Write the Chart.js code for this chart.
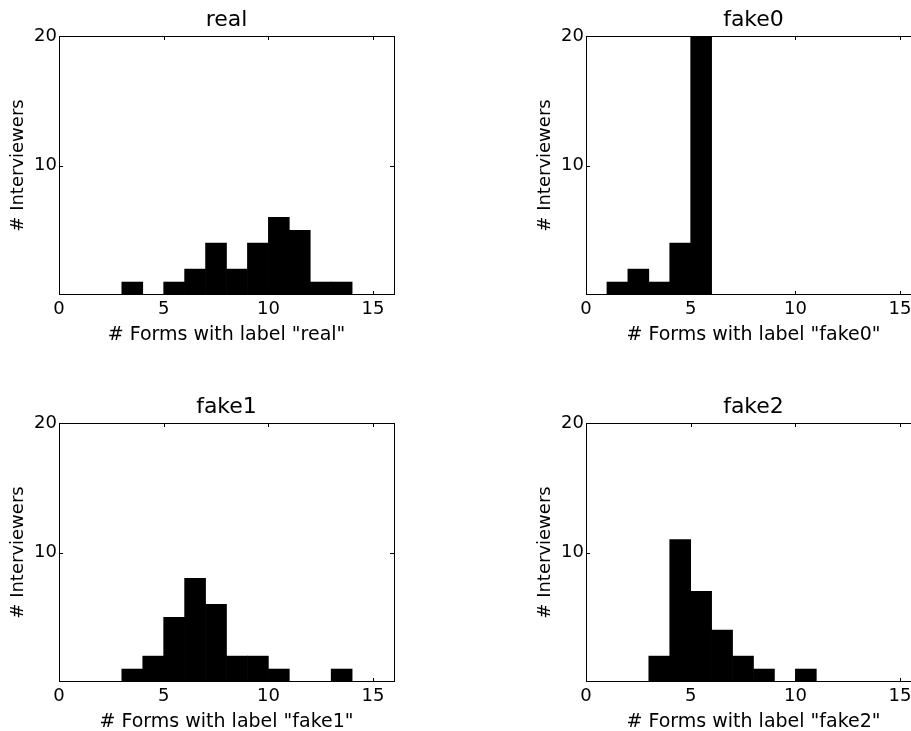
<!DOCTYPE html>
<html>
<head>
<meta charset="utf-8">
<script src="https://cdn.jsdelivr.net/npm/chart.js@4.4.1/dist/chart.umd.min.js"></script>
<style>
  html, body { margin: 0; padding: 0; background: #fff; overflow: hidden; }
  #wrap { position: relative; width: 911px; height: 731px; overflow: hidden; }
  #wrap canvas { position: absolute; }
</style>
</head>
<body>
<div id="wrap">
  <canvas id="chartReal" width="420" height="350" style="left:0px;top:0px"></canvas>
  <canvas id="chartFake0" width="420" height="350" style="left:527px;top:0px"></canvas>
  <canvas id="chartFake1" width="420" height="350" style="left:0px;top:387px"></canvas>
  <canvas id="chartFake2" width="420" height="350" style="left:527px;top:387px"></canvas>
</div>
<script>
// histogram bins: lower edge of each bin, width 1
const binStarts = [1, 2, 3, 4, 5, 6, 7, 8, 9, 10, 11, 12, 13, 14];

// counts per bin
const realCounts  = [0, 0, 1, 0, 1, 2, 4, 2, 4, 6, 5, 1, 1, 0];
const fake0Counts = [1, 2, 1, 4, 20, 0, 0, 0, 0, 0, 0, 0, 0, 0];
const fake1Counts = [0, 0, 1, 2, 5, 8, 6, 2, 2, 1, 0, 0, 1, 0];
const fake2Counts = [0, 0, 2, 11, 7, 4, 2, 1, 0, 1, 0, 0, 0, 0];

// axis ranges and ticks
const xRange = [0, 16];
const yRange = [0, 20];
const xTicks = [0, 5, 10, 15];
const yTicks = [10, 20];

Chart.defaults.font.family = "'DejaVu Sans', sans-serif";
Chart.defaults.color = '#000';

// box around the plot + inward tick marks on all four sides
const frameTicks = {
    id: 'frameTicks',
    afterDatasetsDraw(chart) {
        const { ctx, chartArea: a, scales: { x, y } } = chart;
        const len = 4;
        ctx.save();
        ctx.strokeStyle = '#000';
        ctx.lineWidth = 1;
        ctx.beginPath();
        xTicks.forEach(v => {
            const px = Math.round(x.getPixelForValue(v)) + 0.5;
            ctx.moveTo(px, a.bottom); ctx.lineTo(px, a.bottom - len);
            ctx.moveTo(px, a.top); ctx.lineTo(px, a.top + len);
        });
        yTicks.forEach(v => {
            const py = Math.round(y.getPixelForValue(v)) + 0.5;
            ctx.moveTo(a.left, py); ctx.lineTo(a.left + len, py);
            ctx.moveTo(a.right, py); ctx.lineTo(a.right - len, py);
        });
        ctx.stroke();
        ctx.strokeRect(Math.round(a.left) + 0.5, Math.round(a.top) + 0.5,
            Math.round(a.right - a.left), Math.round(a.bottom - a.top) - 1);
        ctx.restore();
    }
};

function makeHist(id, name, counts) {
    const ctx = document.getElementById(id);
    new Chart(ctx, {
        type: 'bar',
        data: {
            datasets: [{
                data: binStarts.map((b, i) => ({ x: b + 0.5, y: counts[i] })),
                backgroundColor: '#000',
                borderWidth: 0,
                barPercentage: 1,
                categoryPercentage: 1
            }]
        },
        options: {
            responsive: false,
            animation: false,
            events: [],
            layout: { padding: { left: 0, right: 26, top: 0, bottom: 0 } },
            plugins: {
                legend: { display: false },
                tooltip: { enabled: false },
                title: {
                    display: true,
                    text: name,
                    fullSize: false,
                    color: '#000',
                    font: { size: 22, weight: 'normal', lineHeight: '26px' },
                    padding: { top: 7, bottom: 3 }
                }
            },
            scales: {
                x: {
                    type: 'linear',
                    min: xRange[0],
                    max: xRange[1],
                    offset: false,
                    grid: { display: false, drawTicks: false, offset: false },
                    border: { display: false },
                    afterBuildTicks: s => { s.ticks = xTicks.map(v => ({ value: v })); },
                    afterFit: s => { s.height = 55; },
                    ticks: { font: { size: 18 }, padding: 4, maxRotation: 0, color: '#000' },
                    title: {
                        display: true,
                        text: '# Forms with label "' + name + '"',
                        font: { size: 19 },
                        color: '#000',
                        padding: { top: 0, bottom: 4 }
                    }
                },
                y: {
                    min: yRange[0],
                    max: yRange[1],
                    grid: { display: false, drawTicks: false },
                    border: { display: false },
                    afterBuildTicks: s => { s.ticks = yTicks.map(v => ({ value: v })); },
                    afterFit: s => { s.width = 59; },
                    ticks: { font: { size: 18 }, padding: 2, color: '#000' },
                    title: {
                        display: true,
                        text: '# Interviewers',
                        font: { size: 18 },
                        color: '#000',
                        padding: { top: 8, bottom: 0 }
                    }
                }
            }
        },
        plugins: [frameTicks]
    });
}

makeHist('chartReal', 'real', realCounts);
makeHist('chartFake0', 'fake0', fake0Counts);
makeHist('chartFake1', 'fake1', fake1Counts);
makeHist('chartFake2', 'fake2', fake2Counts);
</script>
</body>
</html>
